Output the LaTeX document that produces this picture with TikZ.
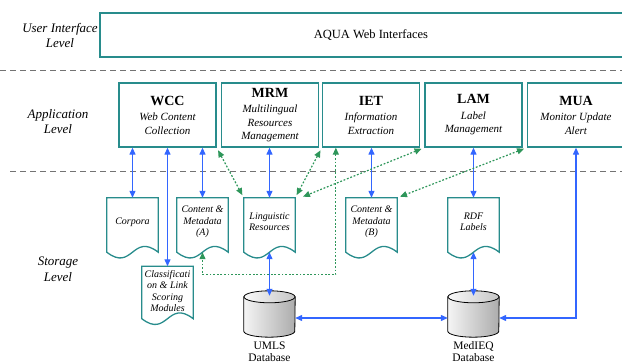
\documentclass[tikz,border=0pt]{standalone}
\usepackage{fontspec}
\setmainfont{Liberation Serif}
\usetikzlibrary{arrows.meta,calc}
\definecolor{boxc}{RGB}{40,140,140}
\definecolor{bluec}{RGB}{51,102,255}
\definecolor{greenc}{RGB}{46,150,90}
\definecolor{dashc}{RGB}{115,115,115}
\newcommand\apptxt[2]{{\fontsize{14}{16}\selectfont\bfseries\upshape #1}\\[2pt]#2}
\begin{document}
\begin{tikzpicture}[x=1pt,y=-1pt,
  appbox/.style={draw=boxc,line width=1.3pt,minimum width=97pt,minimum height=64pt,inner sep=0pt,align=center,font=\fontsize{11}{13.5}\selectfont\itshape},
  docnode/.style={minimum width=51pt,minimum height=54pt,inner sep=0pt,align=center,font=\fontsize{10}{11.5}\selectfont\itshape},
  docline/.style={draw=boxc,line width=1.3pt,fill=white},
  cylnode/.style={minimum width=51pt,minimum height=46pt,inner sep=0pt},
  cylbody/.style={draw=black,line width=0.8pt,shading=axis,left color=gray!8,right color=gray!65},
  cyltop/.style={draw=black,line width=0.8pt,shading=axis,left color=gray!5,right color=gray!45},
  cyllabel/.style={align=center,inner sep=0pt,font=\fontsize{11.5}{12}\selectfont},
  lvl/.style={align=center,inner sep=0pt,font=\fontsize{13}{15.5}\selectfont\itshape},
  sep/.style={draw=dashc,line width=1pt,dash pattern=on 6pt off 4pt},
  barrow/.style={draw=bluec,line width=1.2pt,{Triangle[length=7pt,width=6pt]}-{Triangle[length=7pt,width=6pt]}},
  garrow/.style={draw=greenc,line width=1.2pt,dash pattern=on 1.8pt off 1.8pt,{Triangle[length=7pt,width=6pt]}-{Triangle[length=7pt,width=6pt]}},
  gshort/.style={shorten <=3pt,shorten >=3pt}]
\useasboundingbox (0,0) rectangle (622,363);

% level labels
\node[lvl] (lvlui) at (60,35.5) {User Interface\\Level};
\node[lvl] (lvlapp) at (58,121.5) {Application\\Level};
\node[lvl] (lvlsto) at (58,269.5) {Storage\\Level};

% separators
\draw[sep] (0,71) -- (622,71);
\draw[sep] (10,171.5) -- (622,171.5);

% user interface
\node[appbox,minimum width=542pt,minimum height=44pt,font=\fontsize{12.5}{15}\selectfont] (aqua) at (371,35) {AQUA Web Interfaces};

% application boxes
\node[appbox] (wcc) at (167.5,115) {\apptxt{WCC}{Web Content\\Collection}};
\node[appbox] (mrm) at (270,115) {\apptxt{MRM}{Multilingual\\Resources\\Management}};
\node[appbox] (iet) at (371,115) {\apptxt{IET}{Information\\Extraction}};
\node[appbox] (lam) at (473.5,115) {\apptxt{LAM}{Label\\Management}};
\node[appbox] (mua) at (576,115) {\apptxt{MUA}{Monitor Update\\Alert}};

% storage documents
\node[docnode] (corp) at (132.5,225) {};
\node[docnode] (cma) at (202.5,225) {};
\node[docnode] (ling) at (269.5,225) {};
\node[docnode] (cmb) at (371.5,225) {};
\node[docnode] (rdf) at (473.5,225) {};
\node[docnode,minimum height=52pt] (cls) at (167.5,292.5) {};
\foreach \n in {corp,cma,ling,cmb,rdf,cls}{
  \draw[docline] (\n.north west) -- (\n.south west)
     .. controls ($(\n.south)+(0,20)$) and ($(\n.south)+(0,-20)$) .. (\n.south east)
     -- (\n.north east) -- cycle;
}
\node[docnode] (corpt) at (132.5,222) {Corpora};
\node[docnode] (cmat) at (202.5,222) {Content \&\\Metadata\\(A)};
\node[docnode] (lingt) at (269.5,222) {Linguistic\\Resources};
\node[docnode] (cmbt) at (371.5,222) {Content \&\\Metadata\\(B)};
\node[docnode] (rdft) at (473.5,222) {RDF\\Labels};
\node[docnode,minimum height=52pt] (clst) at (167.5,291) {Classificati\\on \& Link\\Scoring\\Modules};

% databases
\node[cylnode] (umls) at (269.5,314) {};
\node[cylnode] (medieq) at (473.5,314) {};
\foreach \n in {umls,medieq}{
  \path[cylbody] ($(\n.north west)+(0,6)$) -- ($(\n.south west)+(0,-6)$)
     arc[start angle=180,end angle=360,x radius=25.5pt,y radius=6pt]
     -- ($(\n.north east)+(0,6)$) -- cycle;
  \draw[cyltop] ($(\n.north)+(0,6)$) ellipse[x radius=25.5pt,y radius=6pt];
}
\node[cyllabel] (umlsl) at (269.5,352) {UMLS\\Database};
\node[cyllabel] (medieql) at (473.5,352) {MedIEQ\\Database};

% blue connectors
\draw[barrow] (corp.north |- wcc.south) -- (corp.north);
\draw[barrow] (cls.north |- wcc.south) -- (cls.north);
\draw[barrow] (cma.north |- wcc.south) -- (cma.north);
\draw[barrow] (ling.north |- mrm.south) -- (ling.north);
\draw[barrow] (cmb.north |- iet.south) -- (cmb.north);
\draw[barrow] (rdf.north |- lam.south) -- (rdf.north);
\draw[barrow] (ling.south) -- ($(umls.north)+(0,5)$);
\draw[barrow] (rdf.south) -- ($(medieq.north)+(0,5)$);
\draw[barrow] ($(umls.east)+(0,4)$) -- ($(medieq.west)+(0,4)$);
\draw[barrow] (mua.south) |- ($(medieq.east)+(0,4)$);

% green dotted connectors
\draw[garrow,gshort] (wcc.south east) -- (ling.north west);
\draw[garrow,gshort] (iet.south west) -- (ling.north east);
\draw[garrow,gshort] (lam.south west) -- ($(ling.north east)+(5,0)$);
\draw[garrow,gshort] (mua.south west) -- (cmb.north east);
\draw[garrow] ($(iet.south west)+(14,0)$) -- ($(iet.south west)+(14,127)$) -| (cma.south);
\end{tikzpicture}
\end{document}
